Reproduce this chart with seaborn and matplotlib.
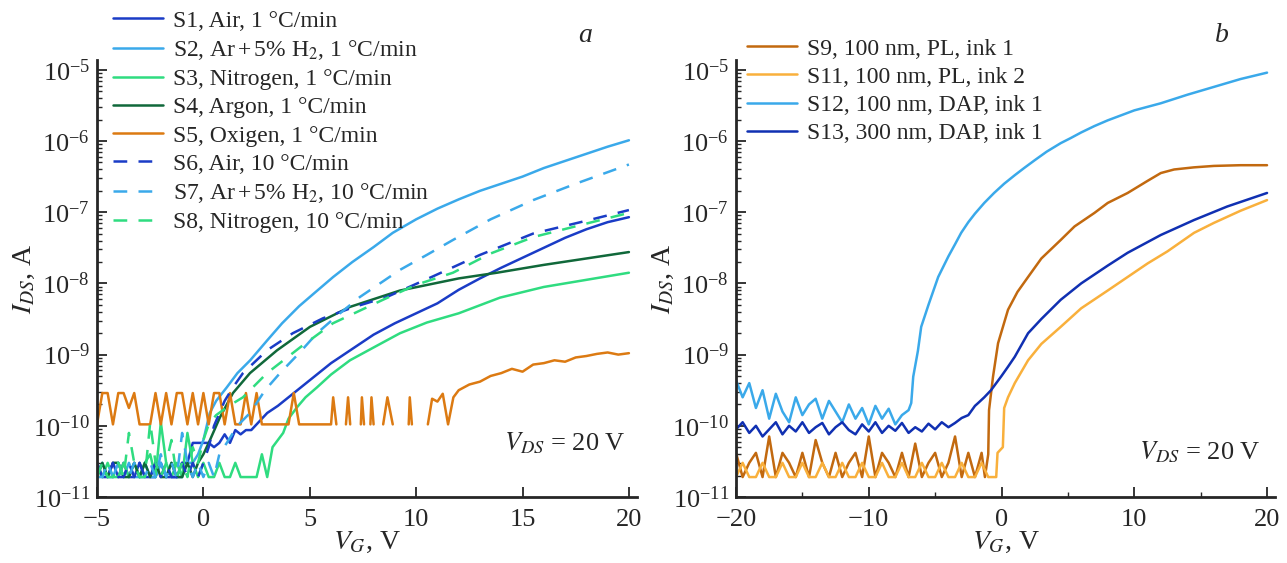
import numpy as np
import matplotlib
matplotlib.use("Agg")
import matplotlib.pyplot as plt
import matplotlib.ticker as mticker
from matplotlib.lines import Line2D
import seaborn as sns

# ---------------- DATA (V_G in volts, log10 of I_DS in amperes) ----------------
# panel a
S1_v = [-5, -4.75, -4.5, -4.25, -4, -3.75, -3.5, -3.25, -3, -2.75, -2.5, -2.25, -2, -1.75, -1.5, -1.25,
        -1, -0.75, -0.5, -0.25, 0, 0.25, 0.5, 0.75, 1.0, 1.25, 1.5, 1.75, 2.0, 2.25, 2.5, 2.75, 3.0,
        3.5, 4, 4.5, 5, 6, 7, 8, 9, 10, 11, 12, 13, 14, 15, 16, 17, 18, 19, 20]
S1_log = [-10.52, -10.72, -10.72, -10.52, -10.72, -10.52, -10.72, -10.72, -10.52, -10.72, -10.72, -10.72,
          -10.52, -10.72, -10.72, -10.72, -10.52, -10.52, -10.24, -10.24, -10.24, -10.24, -10.30, -10.24,
          -10.12, -10.24, -10.06, -10.12, -10.06, -10.06, -9.98, -9.9, -9.82, -9.72, -9.6, -9.48, -9.36,
          -9.12, -8.92, -8.72, -8.56, -8.42, -8.28, -8.09, -7.93, -7.78, -7.64, -7.5, -7.36, -7.24, -7.14, -7.07]

S2_v = [-5, -4.75, -4.5, -4.25, -4, -3.75, -3.5, -3.25, -3, -2.75, -2.5, -2.25, -2, -1.75, -1.5, -1.25,
        -1, -0.75, -0.5, -0.25, 0, 0.3, 0.6, 1.1, 1.6, 2.2, 3, 3.7, 4.5, 5.2, 6.1, 7, 8, 8.9, 10, 11, 12,
        13, 14, 15, 16, 17, 18, 19, 20]
S2_log = [-10.72, -10.52, -10.72, -10.72, -10.52, -10.72, -10.52, -10.72, -10.72, -10.52, -10.72, -10.72,
          -10.52, -10.72, -10.52, -10.72, -10.72, -10.52, -10.52, -10.4, -10.2, -9.82, -9.65, -9.46, -9.26,
          -9.08, -8.8, -8.56, -8.32, -8.14, -7.91, -7.7, -7.49, -7.29, -7.1, -6.95, -6.82, -6.7, -6.6,
          -6.5, -6.38, -6.28, -6.18, -6.08, -5.99]

S3_v = [-5, -4.75, -4.5, -4.25, -4, -3.75, -3.5, -3.25, -3, -2.75, -2.5, -2.25, -2, -1.75, -1.5, -1.25,
        -1, -0.75, -0.5, -0.25, 0, 0.25, 0.5, 0.75, 1.0, 1.25, 1.5, 1.75, 2.0, 2.25, 2.5, 2.75, 3.0,
        3.25, 3.5, 3.75, 4.0, 4.4, 4.8, 5.34, 6, 6.89, 8, 9.24, 10.5, 12, 13.94, 16, 18, 20]
S3_log = [-10.52, -10.72, -10.52, -10.72, -10.72, -10.52, -10.72, -10.52, -10.72, -10.52, -10.4, -10.72,
          -9.95, -10.52, -10.72, -10.52, -10.72, -10.1, -10.52, -10.72, -10.52, -10.72, -10.72, -10.52,
          -10.72, -10.72, -10.52, -10.72, -10.72, -10.72, -10.72, -10.4, -10.72, -10.3, -10.2, -10.1,
          -9.9, -9.74, -9.6, -9.46, -9.28, -9.08, -8.9, -8.7, -8.55, -8.42, -8.2, -8.05, -7.95, -7.85]

S4_v = [-5, -4.75, -4.5, -4.25, -4, -3.75, -3.5, -3.25, -3, -2.75, -2.5, -2.25, -2, -1.75, -1.5, -1.25,
        -1, -0.75, -0.5, -0.25, 0, 0.31, 0.78, 1.39, 2.19, 3.46, 5.01, 6.89, 9.24, 12, 13.8, 16, 18, 20]
S4_log = [-10.72, -10.52, -10.72, -10.52, -10.52, -10.72, -10.72, -10.52, -10.72, -10.52, -10.72, -10.52,
          -10.72, -10.72, -10.52, -10.72, -10.72, -10.52, -10.72, -10.52, -10.4, -10.2, -9.88, -9.54,
          -9.26, -8.94, -8.61, -8.33, -8.1, -7.93, -7.85, -7.74, -7.65, -7.56]

# S5 has dropouts: points sharing a segment number are joined, others are not
S5_v = [-5, -4.75, -4.5, -4.25, -4, -3.75, -3.5, -3.25, -3, -2.75, -2.5, -2.25, -2, -1.75, -1.5, -1.25,
        -1, -0.75, -0.5, -0.25, 0, 0.25, 0.5, 0.75, 1.0, 1.25, 1.5, 1.75, 2.0, 2.25, 2.5, 2.75, 3.0,
        3.25, 3.5, 3.75, 4.0, 4.25, 4.5, 4.75, 5.0, 5.25, 5.5, 5.75, 6.0, 6.1, 6.25,
        6.7, 6.8, 6.9, 7.4, 7.45, 7.55, 7.85, 7.9, 8.0, 8.45, 8.65, 8.9, 9.65, 9.7, 9.8,
        10.55, 10.75, 11.0, 11.25, 11.5, 11.75, 12.0, 12.5, 13, 13.5, 14, 14.5, 15, 15.5, 16, 16.5,
        17, 17.5, 18, 18.5, 19, 19.5, 20]
S5_log = [-9.98, -9.54, -9.54, -9.98, -9.54, -9.54, -9.75, -9.54, -9.98, -9.98, -9.98, -9.54, -9.98,
          -9.54, -9.98, -9.54, -9.54, -9.98, -9.54, -9.98, -9.54, -9.98, -9.54, -9.54, -9.98, -9.54,
          -9.98, -9.98, -9.54, -9.98, -9.54, -9.98, -9.98, -9.98, -9.98, -9.98, -9.98, -9.54, -9.98,
          -9.98, -9.98, -9.98, -9.98, -9.98, -9.98, -9.6, -9.98,
          -9.98, -9.6, -9.98, -9.98, -9.6, -9.98, -9.98, -9.6, -9.98, -9.98, -9.6, -9.98, -9.98, -9.6, -9.98,
          -9.98, -9.62, -9.66, -9.55, -9.98, -9.6, -9.5, -9.42, -9.38, -9.3, -9.26, -9.2, -9.24, -9.14,
          -9.12, -9.08, -9.1, -9.04, -9.02, -8.99, -8.97, -9.0, -8.98]
S5_seg = [0] * 47 + [1, 1, 1, 2, 2, 2, 3, 3, 3, 4, 4, 4, 5, 5, 5] + [6] * 23

S6_v = [-5, -4.75, -4.5, -4.25, -4, -3.75, -3.5, -3.25, -3, -2.75, -2.5, -2.25, -2, -1.75, -1.5, -1.25,
        -1, -0.75, -0.5, -0.25, 0, 0.25, 0.5, 1.0, 1.39, 1.86, 2.99, 4.2, 5.62, 7, 8.63, 10.8, 13, 15.5,
        18, 20]
S6_log = [-10.52, -10.72, -10.72, -10.52, -10.72, -10.72, -10.52, -10.72, -10.52, -10.72, -10.72, -10.52,
          -10.72, -10.52, -10.72, -10.72, -10.52, -10.72, -10.52, -10.72, -10.52, -10.3, -10.0, -9.65,
          -9.46, -9.26, -8.94, -8.7, -8.49, -8.34, -8.19, -7.9, -7.6, -7.3, -7.12, -6.97]

S7_v = [-5, -4.75, -4.5, -4.25, -4, -3.75, -3.5, -3.25, -3, -2.75, -2.5, -2.25, -2, -1.75, -1.5, -1.25,
        -1, -0.75, -0.5, -0.25, 0, 0.25, 0.5, 0.75, 1.1, 1.6, 2.19, 2.9, 3.6, 4.5, 5.34, 6.3, 7.36, 8.3,
        9.24, 10.5, 11.73, 13.5, 15.5, 17.5, 20]
S7_log = [-10.72, -10.72, -10.52, -10.72, -10.52, -10.72, -10.72, -10.52, -10.72, -10.72, -10.52, -10.72,
          -10.4, -10.72, -10.52, -10.72, -10.1, -10.52, -10.72, -10.52, -10.72, -10.52, -10.72, -10.4,
          -10.24, -10.0, -9.82, -9.5, -9.26, -8.98, -8.7, -8.45, -8.19, -8.0, -7.81, -7.6, -7.39, -7.1,
          -6.83, -6.6, -6.33]

S8_v = [-5, -4.75, -4.5, -4.25, -4, -3.75, -3.5, -3.25, -3, -2.75, -2.5, -2.25, -2, -1.75, -1.5, -1.25,
        -1, -0.75, -0.5, -0.25, 0, 0.25, 0.6, 1.2, 1.86, 2.99, 4.54, 6.09, 8.44, 10, 11.73, 13.5, 15.5,
        18, 20]
S8_log = [-10.72, -10.52, -10.72, -10.72, -10.52, -10.72, -10.1, -10.52, -10.72, -10.72, -9.95, -10.52,
          -10.72, -10.52, -10.2, -10.72, -10.52, -10.72, -10.3, -10.52, -10.2, -9.98, -9.85, -9.72,
          -9.6, -9.26, -8.9, -8.56, -8.23, -8.02, -7.85, -7.58, -7.35, -7.16, -7.01]

# panel b
S9_v = [-20, -19.5, -19, -18.5, -18, -17.5, -17, -16.5, -16, -15.5, -15, -14.5, -14, -13.5, -13, -12.5,
        -12, -11.5, -11, -10.5, -10, -9.5, -9, -8.5, -8, -7.5, -7, -6.5, -6, -5.5, -5, -4.5, -4, -3.5,
        -3, -2.5, -2, -1.5, -1.25, -1.0, -0.94, -0.64, -0.26, 0.49, 1.2, 2, 3, 4.46, 5.5, 7, 8, 9.5, 11,
        12, 13, 14.5, 16, 18, 20]
S9_log = [-10.38, -10.72, -10.52, -10.38, -10.72, -10.15, -10.72, -10.38, -10.52, -10.72, -10.38, -10.72,
          -10.2, -10.52, -10.72, -10.38, -10.72, -10.52, -10.38, -10.72, -10.15, -10.72, -10.38, -10.52,
          -10.72, -10.38, -10.72, -10.25, -10.72, -10.52, -10.38, -10.72, -10.52, -10.15, -10.72, -10.38,
          -10.72, -10.38, -10.72, -10.4, -9.78, -9.31, -8.84, -8.37, -8.12, -7.91, -7.65, -7.39, -7.2,
          -7.01, -6.87, -6.73, -6.56, -6.45, -6.4, -6.37, -6.35, -6.34, -6.34]

S11_v = [-20, -19.5, -19, -18.5, -18, -17.5, -17, -16.5, -16, -15.5, -15, -14.5, -14, -13.5, -13, -12.5,
         -12, -11.5, -11, -10.5, -10, -9.5, -9, -8.5, -8, -7.5, -7, -6.5, -6, -5.5, -5, -4.5, -4, -3.5,
         -3, -2.5, -2, -1.5, -1, -0.4, -0.3, 0.1, 0.2, 0.49, 1.0, 2, 3, 4.46, 6, 8, 9.5, 11, 12.5, 14.5,
         16, 18, 20]
S11_log = [-10.72, -10.52, -10.72, -10.72, -10.52, -10.72, -10.72, -10.52, -10.72, -10.72, -10.52, -10.72,
           -10.72, -10.52, -10.72, -10.72, -10.52, -10.72, -10.72, -10.52, -10.72, -10.72, -10.52, -10.72,
           -10.72, -10.52, -10.72, -10.72, -10.52, -10.72, -10.72, -10.52, -10.72, -10.72, -10.52, -10.72,
           -10.72, -10.52, -10.72, -10.72, -10.38, -10.3, -9.75, -9.6, -9.4, -9.08, -8.85, -8.61, -8.35,
           -8.1, -7.91, -7.72, -7.55, -7.29, -7.15, -6.98, -6.83]

S12_v = [-20, -19.5, -19, -18.5, -18, -17.5, -17, -16.5, -16, -15.5, -15, -14.5, -14, -13.5, -13, -12.5,
         -12, -11.5, -11, -10.5, -10, -9.5, -9, -8.5, -8, -7.5, -7, -6.8, -6.65, -6.3, -6.05, -5.5, -4.77,
         -4, -3.5, -3.04, -2.5, -2, -1.3, -0.56, 0.2, 1, 1.7, 2.5, 3.4, 4.46, 5.2, 6, 7, 8, 9, 10, 11, 12,
         14, 16, 18, 20]
S12_log = [-9.36, -9.6, -9.4, -9.75, -9.5, -9.9, -9.55, -9.8, -9.95, -9.6, -9.85, -9.7, -9.62, -9.9,
           -9.65, -9.8, -9.95, -9.7, -9.9, -9.75, -9.98, -9.72, -9.9, -9.76, -9.98, -9.85, -9.78, -9.68,
           -9.31, -8.95, -8.61, -8.3, -7.91, -7.62, -7.45, -7.29, -7.14, -7.02, -6.87, -6.73, -6.6, -6.48,
           -6.38, -6.27, -6.15, -6.03, -5.96, -5.88, -5.79, -5.71, -5.64, -5.57, -5.52, -5.47, -5.35,
           -5.24, -5.13, -5.04]

S13_v = [-20, -19.5, -19, -18.5, -18, -17.5, -17, -16.5, -16, -15.5, -15, -14.5, -14, -13.5, -13, -12.5,
         -12, -11.5, -11, -10.5, -10, -9.5, -9, -8.5, -8, -7.5, -7, -6.5, -6, -5.5, -5, -4.5, -4, -3.5,
         -3, -2.5, -2, -1.76, -1.3, -0.79, 0, 0.49, 1, 2, 3, 4.46, 6, 8, 9.5, 12, 14.5, 17, 20]
S13_log = [-10.05, -9.95, -10.1, -10.0, -10.15, -10.05, -9.95, -10.12, -10.0, -10.08, -9.95, -10.1, -10.02,
           -9.96, -10.12, -10.02, -9.95, -10.06, -10.12, -9.98, -10.08, -9.95, -10.1, -10.0, -10.07,
           -9.96, -10.1, -10.02, -10.08, -9.97, -10.05, -9.95, -10.02, -9.96, -9.89, -9.85, -9.72, -9.68,
           -9.6, -9.5, -9.3, -9.17, -9.03, -8.7, -8.5, -8.23, -8.0, -7.75, -7.57, -7.32, -7.11, -6.92, -6.73]

LABELS_A = ["S1, Air, 1 °C/min", "S2, Ar$\\,$+$\\,$5% H$_2$, 1 °C/min", "S3, Nitrogen, 1 °C/min",
            "S4, Argon, 1 °C/min", "S5, Oxigen, 1 °C/min", "S6, Air, 10 °C/min",
            "S7, Ar$\\,$+$\\,$5% H$_2$, 10 °C/min", "S8, Nitrogen, 10 °C/min"]
LABELS_B = ["S9, 100 nm, PL, ink 1", "S11, 100 nm, PL, ink 2", "S12, 100 nm, DAP, ink 1",
            "S13, 300 nm, DAP, ink 1"]

# ---------------- STYLE ----------------
sns.set_style("ticks")
plt.rcParams["font.family"] = ["Liberation Serif", "DejaVu Serif"]
plt.rcParams["mathtext.fontset"] = "stix"
plt.rcParams["axes.unicode_minus"] = True

BLUE = "#1a3cc6"
LBLUE = "#3aa9ea"
GREEN = "#2fdc80"
DGREEN = "#10683a"
ORANGE = "#dc7a12"
BROWN = "#c2690f"
LORANGE = "#f9b03c"
NAVY = "#1030b2"
DASH = (0, (5.5, 4.5))
LW = 1.8

fig = plt.figure(figsize=(12.87, 5.63), dpi=100)
ax1 = fig.add_axes([97 / 1287, 1 - 497 / 563, 540 / 1287, 437 / 563])
ax2 = fig.add_axes([736 / 1287, 1 - 497 / 563, 539 / 1287, 437 / 563])

series_a = [(S1_v, S1_log, None, BLUE, "-"), (S2_v, S2_log, None, LBLUE, "-"),
            (S3_v, S3_log, None, GREEN, "-"), (S4_v, S4_log, None, DGREEN, "-"),
            (S5_v, S5_log, S5_seg, ORANGE, "-"), (S6_v, S6_log, None, BLUE, DASH),
            (S7_v, S7_log, None, LBLUE, DASH), (S8_v, S8_log, None, GREEN, DASH)]
series_b = [(S9_v, S9_log, None, BROWN, "-"), (S11_v, S11_log, None, LORANGE, "-"),
            (S12_v, S12_log, None, LBLUE, "-"), (S13_v, S13_log, None, NAVY, "-")]

for ax, series, labels, anchor in [(ax1, series_a, LABELS_A, (113, 10)), (ax2, series_b, LABELS_B, (747, 38))]:
    handles = []
    for v, lg, seg, col, ls in series:
        sns.lineplot(x=v, y=10 ** np.array(lg), units=seg, ax=ax, color=col, linestyle=ls,
                     linewidth=LW, estimator=None, sort=False, legend=False)
        handles.append(Line2D([], [], color=col, linestyle=ls, linewidth=LW))
    ax.legend(handles, labels, loc="upper left",
              bbox_to_anchor=(anchor[0] / 1287, 1 - anchor[1] / 563), bbox_transform=fig.transFigure,
              frameon=False, fontsize=17, handlelength=2.1, handletextpad=0.45, labelspacing=0.28,
              borderpad=0, borderaxespad=0)

top = 10 ** (-11 + 437 / 71.2)
for ax in (ax1, ax2):
    ax.set_yscale("log")
    ax.set_ylim(1e-11, top)
    ax.yaxis.set_major_locator(mticker.FixedLocator([1e-11, 1e-10, 1e-9, 1e-8, 1e-7, 1e-6, 1e-5]))
    ax.yaxis.set_major_formatter(mticker.LogFormatterSciNotation())
    ax.yaxis.set_minor_locator(mticker.LogLocator(base=10, subs=np.arange(2, 10), numticks=20))
    ax.yaxis.set_minor_formatter(mticker.NullFormatter())
    ax.tick_params(which="major", direction="in", length=7, width=1.3, labelsize=19, pad=5)
    ax.tick_params(which="minor", direction="in", length=3.5, width=1.0)
    ax.tick_params(axis="x", which="major", pad=9)
    for s in ("top", "right"):
        ax.spines[s].set_visible(False)
    for s in ("left", "bottom"):
        ax.spines[s].set_linewidth(2.0)
    ax.set_xlabel("$V_G$, V", fontsize=20, labelpad=-1)
    ax.set_ylabel("$I_{DS}$, A", fontsize=20)
    ax.yaxis.set_label_coords(-0.112, 0.5)

ax1.set_xlim(-5, 20.38)
ax1.xaxis.set_major_locator(mticker.MultipleLocator(5))
ax1.xaxis.set_minor_locator(mticker.NullLocator())
ax2.set_xlim(-20, 20.6)
ax2.xaxis.set_major_locator(mticker.MultipleLocator(10))
ax2.xaxis.set_minor_locator(mticker.MultipleLocator(5))

fig.text(585 / 1287, 1 - 35 / 563, "a", fontsize=20, style="italic", ha="center", va="center")
fig.text(1222 / 1287, 1 - 35 / 563, "b", fontsize=20, style="italic", ha="center", va="center")
fig.text(565 / 1287, 1 - 443 / 563, "$V_{DS}$ = 20 V", fontsize=19, ha="center", va="center")
fig.text(1200 / 1287, 1 - 452 / 563, "$V_{DS}$ = 20 V", fontsize=19, ha="center", va="center")

fig.savefig("out.png", dpi=100)
